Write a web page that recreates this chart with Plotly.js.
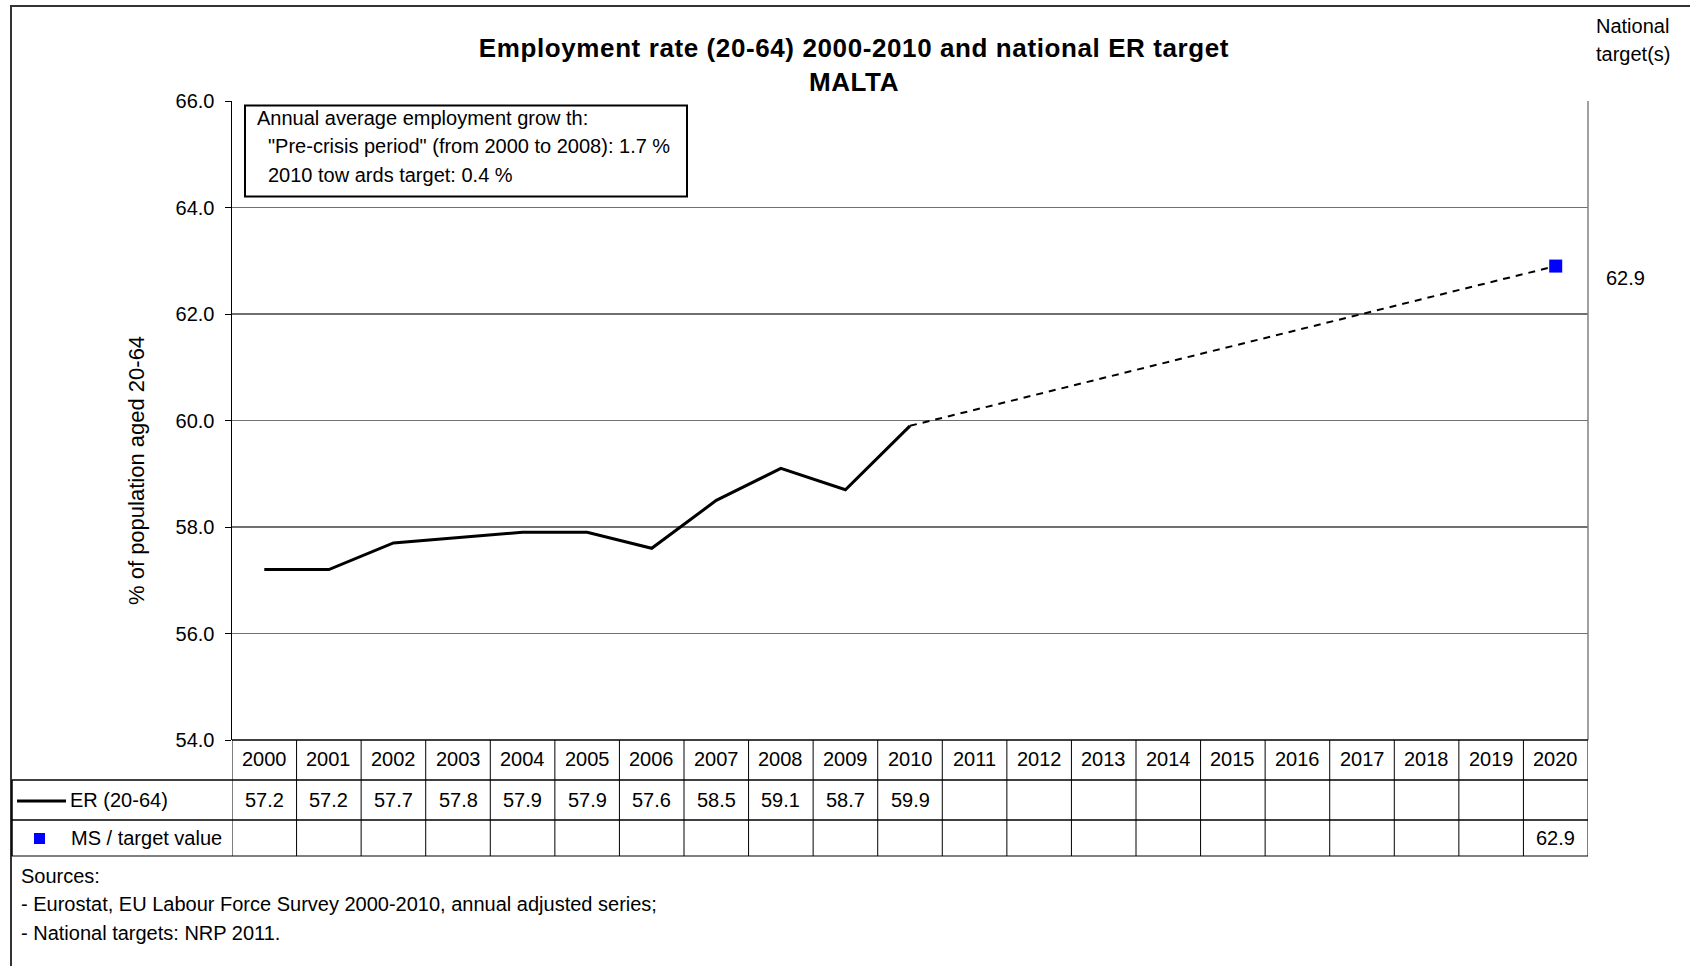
<!DOCTYPE html>
<html>
<head>
<meta charset="utf-8">
<script src="https://cdn.plot.ly/plotly-3.0.1.min.js"></script>
<style>
html,body{margin:0;padding:0;background:#fff;}
#chart{width:1690px;height:966px;}
#chart .gtitle{letter-spacing:0.6px;}
</style>
</head>
<body>
<div id="chart"></div>
<script>
// ---- data ----
const years = [2000,2001,2002,2003,2004,2005,2006,2007,2008,2009,2010,2011,2012,2013,2014,2015,2016,2017,2018,2019,2020];
const erYears = [2000,2001,2002,2003,2004,2005,2006,2007,2008,2009,2010];
const erValues = [57.2,57.2,57.7,57.8,57.9,57.9,57.6,58.5,59.1,58.7,59.9];
const targetYears = [2020];
const targetValues = [62.9];
const trendYears = [2010, 2020];
const trendValues = [59.9, 62.9];
const yTickVals = [54,56,58,60,62,64,66];
const yTickText = ['54.0','56.0','58.0','60.0','62.0','64.0','66.0'];
const titleLines = ['Employment rate (20-64) 2000-2010 and national ER target', 'MALTA'];
const yTitle = '% of population aged 20-64';
const boxLines = ['Annual average employment grow th:', '"Pre-crisis period" (from 2000 to 2008): 1.7 %', '2010 tow ards target: 0.4 %'];
const sourceLines = ['Sources:', '- Eurostat, EU Labour Force Survey 2000-2010, annual adjusted series;', '- National targets: NRP 2011.'];
const rowLabels = ['ER (20-64)', 'MS / target value'];
const sideHeader = ['National', 'target(s)'];

// ---- layout helpers (pixel geometry) ----
const W = 1690, H = 966;
const L = 232, R = 1588, T = 101, B = 740;
const PW = R - L, PH = B - T;
const px = x => (x - L) / PW;       // pixel x -> paper
const py = y => (B - y) / PH;       // pixel y -> paper
const FONT = 'Liberation Sans, Arial, sans-serif';
const fmt = v => v.toFixed(1);

const rowTop = [740, 780, 820];
const rowBot = [780, 820, 856];
const rowMid = rowTop.map((t,i)=> (t + rowBot[i]) / 2);

const traces = [
  {x: erYears, y: erValues, type: 'scatter', mode: 'lines',
   line: {color: '#000000', width: 3}, hoverinfo: 'skip', cliponaxis: false},
  {x: trendYears, y: trendValues, type: 'scatter', mode: 'lines',
   line: {color: '#000000', width: 2, dash: '7px,6px'}, hoverinfo: 'skip'},
  {x: targetYears, y: targetValues, type: 'scatter', mode: 'markers',
   marker: {symbol: 'square', size: 13, color: '#0000FF', line: {width: 0}}, hoverinfo: 'skip', cliponaxis: false}
];

const shapes = [];
const annotations = [];

// outer frame
shapes.push({type:'rect', xref:'paper', yref:'paper', x0: px(11), x1: px(1720), y0: py(6), y1: py(1000),
  line:{color:'#333333', width:2}, fillcolor:'rgba(0,0,0,0)', layer:'below'});
// right border of plot area
shapes.push({type:'line', xref:'paper', yref:'paper', x0:1, x1:1, y0:0, y1:1, line:{color:'#808080', width:1.5}});

// table horizontal lines
shapes.push({type:'line', xref:'paper', yref:'paper', x0: 0, x1: 1, y0: py(740), y1: py(740), line:{color:'#000', width:1.5}});
[780, 820].forEach(yy => shapes.push({type:'line', xref:'paper', yref:'paper', x0: px(12), x1: 1, y0: py(yy), y1: py(yy), line:{color:'#000', width:1.5}}));
shapes.push({type:'line', xref:'paper', yref:'paper', x0: px(12), x1: 1, y0: py(856), y1: py(856), line:{color:'#808080', width:2}});
// table vertical lines
shapes.push({type:'line', xref:'paper', yref:'paper', x0: px(12), x1: px(12), y0: py(780), y1: py(856), line:{color:'#000', width:1.5}});
years.forEach(yr => {
  shapes.push({type:'line', xref:'x', yref:'paper', x0: yr - 0.5, x1: yr - 0.5, y0: py(740), y1: py(856), line:{color:'#000', width:1}});
});
shapes.push({type:'line', xref:'x', yref:'paper', x0: years[years.length-1] + 0.5, x1: years[years.length-1] + 0.5, y0: py(740), y1: py(856), line:{color:'#000', width:1}});

// legend keys in table
shapes.push({type:'line', xref:'paper', yref:'paper', x0: px(17), x1: px(66), y0: py(801), y1: py(801), line:{color:'#000', width:3}});
shapes.push({type:'rect', xref:'paper', yref:'paper', x0: px(34), x1: px(45), y0: py(833), y1: py(844), line:{width:0}, fillcolor:'#0000FF'});

// annotation box
shapes.push({type:'rect', xref:'paper', yref:'paper', x0: px(245), x1: px(687), y0: py(105.5), y1: py(196.5),
  line:{color:'#000', width:2}, fillcolor:'#ffffff'});

// table header (years)
years.forEach(yr => annotations.push({x: yr, xref:'x', y: py(rowMid[0] - 1.5), yref:'paper', text: String(yr), showarrow:false,
  font:{family:FONT, size:20, color:'#000'}, xanchor:'center', yanchor:'middle'}));
// ER values
erYears.forEach((yr,i) => annotations.push({x: yr, xref:'x', y: py(rowMid[1]), yref:'paper', text: fmt(erValues[i]), showarrow:false,
  font:{family:FONT, size:20, color:'#000'}, xanchor:'center', yanchor:'middle'}));
// target values
targetYears.forEach((yr,i) => annotations.push({x: yr, xref:'x', y: py(rowMid[2]), yref:'paper', text: fmt(targetValues[i]), showarrow:false,
  font:{family:FONT, size:20, color:'#000'}, xanchor:'center', yanchor:'middle'}));
// row labels
annotations.push({x: px(68), xref:'paper', y: py(rowMid[1]), yref:'paper', text: rowLabels[0], showarrow:false,
  font:{family:FONT, size:20, color:'#000'}, xanchor:'left', yanchor:'middle'});
annotations.push({x: px(69), xref:'paper', y: py(rowMid[2]), yref:'paper', text: rowLabels[1], showarrow:false,
  font:{family:FONT, size:20, color:'#000'}, xanchor:'left', yanchor:'middle'});

// target label on right
targetYears.forEach((yr,i) => annotations.push({x: px(1604), xref:'paper', y: targetValues[i], yref:'y', yshift:-12, text: fmt(targetValues[i]), showarrow:false,
  font:{family:FONT, size:20, color:'#000'}, xanchor:'left', yanchor:'middle'}));
// side header
annotations.push({x: px(1594), xref:'paper', y: py(26), yref:'paper', text: sideHeader[0], showarrow:false,
  font:{family:FONT, size:20, color:'#000'}, xanchor:'left', yanchor:'middle'});
annotations.push({x: px(1594), xref:'paper', y: py(54), yref:'paper', text: sideHeader[1], showarrow:false,
  font:{family:FONT, size:20, color:'#000'}, xanchor:'left', yanchor:'middle'});

// box text
const boxX = [255, 266, 266], boxY = [117.5, 145.5, 174.5];
boxLines.forEach((t,i) => annotations.push({x: px(boxX[i]), xref:'paper', y: py(boxY[i]), yref:'paper', text: t, showarrow:false,
  font:{family:FONT, size:20, color:'#000'}, xanchor:'left', yanchor:'middle'}));

// sources
const srcY = [876, 904, 933];
sourceLines.forEach((t,i) => annotations.push({x: px(19), xref:'paper', y: py(srcY[i]), yref:'paper', text: t, showarrow:false,
  font:{family:FONT, size:20, color:'#000'}, xanchor:'left', yanchor:'middle'}));

// y axis title
annotations.push({x: px(137), xref:'paper', y: py(471), yref:'paper', text: yTitle, textangle:-90, showarrow:false,
  font:{family:'Liberation Sans, Arial, sans-serif', size:22, color:'#000'}, xanchor:'center', yanchor:'middle'});

const layout = {
  width: W, height: H,
  margin: {l: L, r: W - R, t: T, b: H - B, pad: 0},
  paper_bgcolor: '#ffffff', plot_bgcolor: '#ffffff',
  showlegend: false,
  title: {text: titleLines.join('<br>'), x: 854 / W, xref: 'container', xanchor: 'center',
          y: 1 - 57 / H, yref: 'container', yanchor: 'middle',
          font: {family: FONT, size: 26, color: '#000', weight: 'bold'}},
  xaxis: {range: [years[0] - 0.5, years[years.length-1] + 0.5], showgrid: false, zeroline: false,
          showticklabels: false, ticks: '', showline: false, fixedrange: true},
  yaxis: {range: [54, 66], tickvals: yTickVals, ticktext: yTickText, showgrid: true, gridcolor: '#707070', gridwidth: 1.5,
          zeroline: false, showline: true, linecolor: '#000', linewidth: 1.5, ticks: 'outside', ticklen: 6, tickcolor: '#000',
          tickfont: {family: FONT, size: 20, color: '#000'}, ticklabelstandoff: 6, fixedrange: true},
  shapes: shapes,
  annotations: annotations
};

Plotly.newPlot('chart', traces, layout, {displayModeBar: false, staticPlot: true});
</script>
</body>
</html>
